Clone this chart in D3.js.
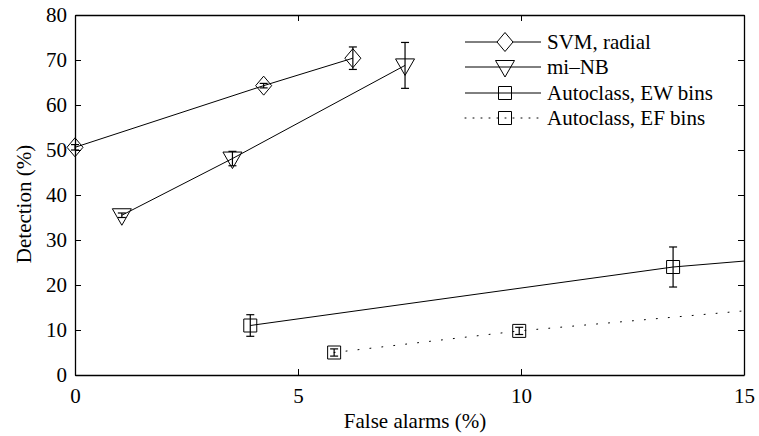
<!DOCTYPE html>
<html><head><meta charset="utf-8">
<script src="https://cdn.jsdelivr.net/npm/d3@7"></script>
<style>
body{margin:0;background:#fff}
</style>
</head><body>
<svg id="c" width="759" height="436" font-family="Liberation Serif"></svg>
<script>
// ---- data ----
const seriesNames = ["SVM, radial", "mi\u2013NB", "Autoclass, EW bins", "Autoclass, EF bins"];
const svmX = [0, 4.23, 6.23];
const svmY = [50.6, 64.3, 70.4];
const svmErr = [0.6, 0.5, 2.5];
const nbX = [1.05, 3.53, 7.4];
const nbY = [35.5, 48.1, 68.8];
const nbErr = [0.5, 1.6, 5.1];
const ewX = [3.93, 13.41, 18];
const ewY = [11.0, 24.0, 27.8];
const ewErr = [2.4, 4.45, 0];
const efX = [5.81, 9.96, 18];
const efY = [5.0, 9.8, 16.9];
const efErr = [0.8, 0.8, 0];
const xTicks = [0, 5, 10, 15];
const yTicks = [0, 10, 20, 30, 40, 50, 60, 70, 80];
const xLabel = "False alarms (%)";
const yLabel = "Detection (%)";

// ---- layout ----
const L = 75, R = 744, T = 15, B = 375;
const FS = 21;
const FF = "Liberation Serif";
const svg = d3.select("#c");
const x = d3.scaleLinear().domain([0, 15]).range([L, R]);
const y = d3.scaleLinear().domain([0, 80]).range([B, T]);

svg.append("defs").append("clipPath").attr("id", "clip")
  .append("rect").attr("x", L).attr("y", T).attr("width", R - L).attr("height", B - T);

const mk = (xs, ys, es) => xs.map((v, i) => ({x: v, y: ys[i], e: es[i]}));
const series = [
  {name: seriesNames[0], data: mk(svmX, svmY, svmErr), marker: "diamond", dash: null},
  {name: seriesNames[1], data: mk(nbX, nbY, nbErr), marker: "tri", dash: null},
  {name: seriesNames[2], data: mk(ewX, ewY, ewErr), marker: "square", dash: null},
  {name: seriesNames[3], data: mk(efX, efY, efErr), marker: "square", dash: "1,11"}
];

function markerPath(type, cx, cy) {
  if (type === "diamond") return `M${cx},${cy-9.5}L${cx+8},${cy}L${cx},${cy+9.5}L${cx-8},${cy}Z`;
  if (type === "tri") return `M${cx-9.5},${cy-6.5}L${cx+9.5},${cy-6.5}L${cx},${cy+10}Z`;
  return `M${cx-6.5},${cy-6.5}h13v13h-13Z`;
}
function txt(sel) {
  return sel.attr("font-family", FF).attr("font-size", FS).attr("fill", "#000");
}

// ---- axes ----
const xAxisB = d3.axisBottom(x).tickValues(xTicks).tickSizeInner(-6).tickSizeOuter(0).tickPadding(13);
const xAxisT = d3.axisTop(x).tickValues(xTicks).tickSizeInner(-6).tickSizeOuter(0).tickFormat("");
const yAxisL = d3.axisLeft(y).tickValues(yTicks).tickSizeInner(-6).tickSizeOuter(0).tickPadding(8);
const yAxisR = d3.axisRight(y).tickValues(yTicks).tickSizeInner(-6).tickSizeOuter(0).tickFormat("");

function styleAxis(g) {
  g.attr("font-family", FF).attr("font-size", FS);
  g.select(".domain").attr("stroke", "#000").attr("stroke-width", 1.3);
  g.selectAll(".tick line").attr("stroke", "#000").attr("stroke-width", 1);
  txt(g.selectAll(".tick text"));
}
svg.append("g").attr("transform", `translate(0,${B})`).call(xAxisB).call(styleAxis);
svg.append("g").attr("transform", `translate(0,${T})`).call(xAxisT).call(styleAxis);
svg.append("g").attr("transform", `translate(${L},0)`).call(yAxisL).call(styleAxis);
svg.append("g").attr("transform", `translate(${R},0)`).call(yAxisR).call(styleAxis);

// ---- series ----
const line = d3.line().x(d => x(d.x)).y(d => y(d.y));
series.forEach(s => {
  svg.append("path").datum(s.data).attr("d", line).attr("clip-path", "url(#clip)")
    .attr("fill", "none").attr("stroke", "#000").attr("stroke-width", 1)
    .attr("stroke-dasharray", s.dash).attr("stroke-linecap", s.dash ? "round" : "butt");
  const vis = s.data.filter(d => d.x <= 15);
  const g = svg.append("g");
  vis.forEach(d => {
    const cx = x(d.x);
    if (d.e > 0) {
      const y1 = y(d.y + d.e), y2 = y(d.y - d.e);
      g.append("line").attr("x1", cx).attr("x2", cx).attr("y1", y1).attr("y2", y2).attr("stroke", "#000").attr("stroke-width", 1.2);
      g.append("line").attr("x1", cx - 4).attr("x2", cx + 4).attr("y1", y1).attr("y2", y1).attr("stroke", "#000").attr("stroke-width", 1.2);
      g.append("line").attr("x1", cx - 4).attr("x2", cx + 4).attr("y1", y2).attr("y2", y2).attr("stroke", "#000").attr("stroke-width", 1.2);
    }
    g.append("path").attr("d", markerPath(s.marker, cx, y(d.y)))
      .attr("fill", "none").attr("stroke", "#000").attr("stroke-width", 1);
  });
});

// ---- legend ----
const legY = [42, 67, 93, 118];
series.forEach((s, i) => {
  const ly = legY[i];
  svg.append("line").attr("x1", 465).attr("x2", 541).attr("y1", ly).attr("y2", ly)
    .attr("stroke", "#000").attr("stroke-width", 1)
    .attr("stroke-dasharray", s.dash ? "1,7" : null).attr("stroke-linecap", s.dash ? "round" : "butt");
  svg.append("path").attr("d", markerPath(s.marker, 505, ly)).attr("fill", s.marker === "diamond" ? "#fff" : "none")
    .attr("stroke", "#000").attr("stroke-width", 1);
  svg.append("text").attr("x", 547).attr("y", ly + 7).call(txt).text(s.name);
});

// ---- labels ----
svg.append("text").attr("x", 415).attr("y", 428).attr("text-anchor", "middle").call(txt).text(xLabel);
svg.append("text").attr("transform", `translate(31,204) rotate(-90)`).attr("text-anchor", "middle").call(txt).text(yLabel);
</script>
</body></html>
